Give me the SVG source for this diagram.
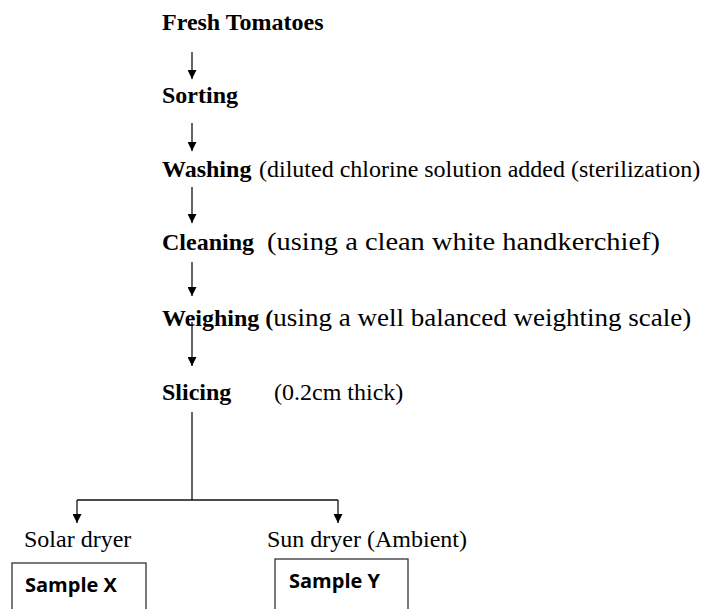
<svg xmlns="http://www.w3.org/2000/svg" width="709" height="609" viewBox="0 0 709 609">
<style>
.t{font-family:"Liberation Serif","Times New Roman",serif;font-size:24px;fill:#000}
.b{font-weight:bold}
.r{font-size:25px}
.s{font-family:"Open Sans","Liberation Sans",sans-serif;font-size:20px;font-weight:bold;fill:#000}
.ln{stroke:#111;stroke-width:1.3;fill:none}
.box{fill:#fff;stroke:#333;stroke-width:1.3}
</style>
<defs>
<marker id="ah" viewBox="0 0 10 10" refX="10" refY="5" markerWidth="10" markerHeight="9" markerUnits="userSpaceOnUse" orient="auto">
<path d="M0,0 L10,5 L0,10 z" fill="#000"/>
</marker>
</defs>
<rect width="709" height="609" fill="#fff"/>
<g id="connectors">
<line class="ln" x1="192" y1="52" x2="192" y2="79" marker-end="url(#ah)"/>
<line class="ln" x1="192" y1="123" x2="192" y2="151" marker-end="url(#ah)"/>
<line class="ln" x1="192" y1="187" x2="192" y2="223" marker-end="url(#ah)"/>
<line class="ln" x1="192" y1="262" x2="192" y2="296" marker-end="url(#ah)"/>
<line class="ln" x1="192" y1="322" x2="192" y2="366" marker-end="url(#ah)"/>
<polyline class="ln" points="192,412 192,500"/>
<polyline class="ln" points="77,500 338,500"/>
<line class="ln" x1="77" y1="500" x2="77" y2="523" marker-end="url(#ah)"/>
<line class="ln" x1="338" y1="500" x2="338" y2="523" marker-end="url(#ah)"/>
</g>
<g id="fresh"><text class="t b" x="162" y="30">Fresh Tomatoes</text></g>
<g id="sorting"><text class="t b" x="162" y="103">Sorting</text></g>
<g id="washing"><text class="t" x="162" y="177"><tspan class="b">Washing</tspan><tspan x="259">(diluted chlorine solution added (sterilization)</tspan></text></g>
<g id="cleaning"><text class="t" x="162" y="250"><tspan class="b">Cleaning</tspan><tspan class="r" x="267" textLength="393" lengthAdjust="spacingAndGlyphs">(using a clean white handkerchief)</tspan></text></g>
<g id="weighing"><text class="t" x="162" y="326"><tspan class="b">Weighing (</tspan><tspan class="r" textLength="418" lengthAdjust="spacingAndGlyphs">using a well balanced weighting scale)</tspan></text></g>
<g id="slicing"><text class="t" x="162" y="400"><tspan class="b">Slicing</tspan><tspan x="274">(0.2cm thick)</tspan></text></g>
<g id="solar"><text class="t" x="24" y="547">Solar dryer</text></g>
<g id="sun"><text class="t" x="267" y="547">Sun dryer (Ambient)</text></g>
<g id="sampleX"><rect class="box" x="12" y="563" width="134" height="60"/><text class="s" x="25" y="592">Sample X</text></g>
<g id="sampleY"><rect class="box" x="275" y="559" width="133" height="64"/><text class="s" x="289" y="588">Sample Y</text></g>
</svg>
